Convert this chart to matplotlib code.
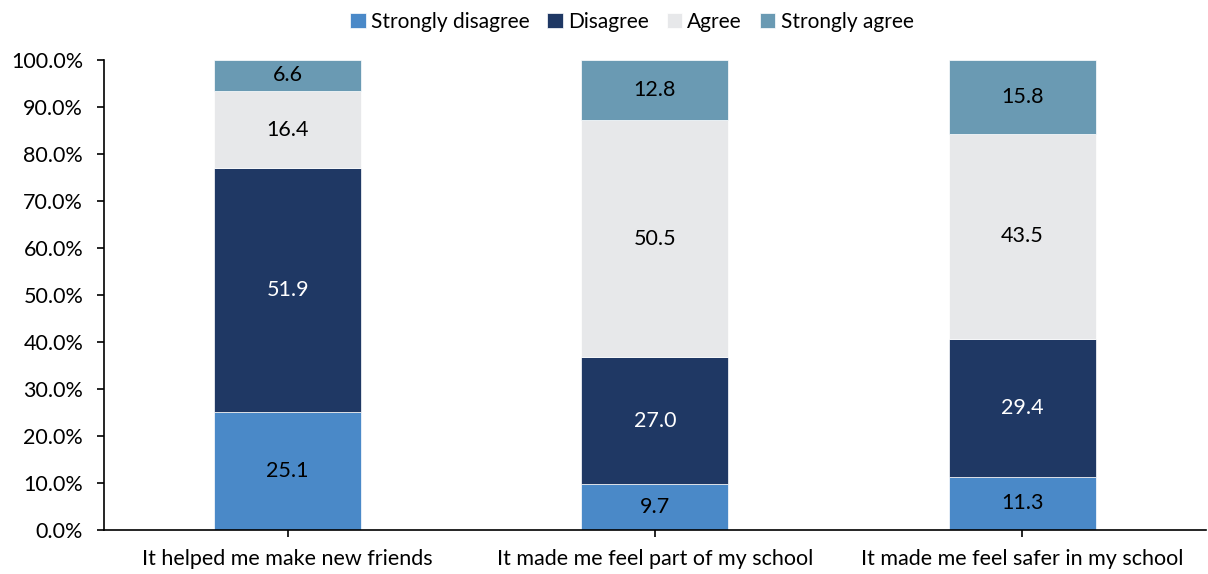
import matplotlib.pyplot as plt
import numpy as np

plt.rcParams['font.family'] = ['Lato', 'DejaVu Sans']

categories = ['It helped me make new friends',
              'It made me feel part of my school',
              'It made me feel safer in my school']
responses = ['Strongly disagree', 'Disagree', 'Agree', 'Strongly agree']
strongly_disagree = [25.1, 9.7, 11.3]
disagree = [51.9, 27.0, 29.4]
agree = [16.4, 50.5, 43.5]
strongly_agree = [6.6, 12.8, 15.8]

series = [strongly_disagree, disagree, agree, strongly_agree]
colors = ['#4A89C8', '#1F3864', '#E7E8EA', '#6A9AB3']
text_colors = ['#000000', '#FFFFFF', '#000000', '#000000']

fig = plt.figure(figsize=(12.08, 5.74), dpi=100)
ax = fig.add_axes([0.0861, 0.0767, 0.912, 0.8188])

x = np.arange(len(categories))
bottom = np.zeros(len(categories))
for name, vals, col, tcol in zip(responses, series, colors, text_colors):
    vals = np.array(vals)
    ax.bar(x, vals, 0.4, bottom=bottom, color=col, label=name,
           edgecolor='white', linewidth=0.5)
    for xi, b, v in zip(x, bottom, vals):
        ax.text(xi, b + v / 2, f'{v:.1f}', ha='center', va='center',
                fontsize=15.5, color=tcol)
    bottom += vals

ax.set_xlim(-0.5, 2.5)
ax.set_ylim(0, 100)
ax.set_yticks(np.arange(0, 101, 10))
ax.set_yticklabels([f'{v:.1f}%' for v in range(0, 101, 10)])
ax.set_xticks(x)
ax.set_xticklabels(categories)
ax.tick_params(axis='both', labelsize=15.5, length=5, width=1.2, direction='out')
ax.tick_params(axis='y', pad=10)
ax.tick_params(axis='x', pad=9)
for side in ['top', 'right']:
    ax.spines[side].set_visible(False)
for side in ['left', 'bottom']:
    ax.spines[side].set_linewidth(1.2)

ax.legend(loc='upper center', bbox_to_anchor=(0.479, 1.12), ncol=4,
          frameon=False, fontsize=15, handlelength=0.75, handleheight=0.75,
          handletextpad=0.25, columnspacing=0.85, borderaxespad=0)

fig.savefig('out.png', dpi=100)
